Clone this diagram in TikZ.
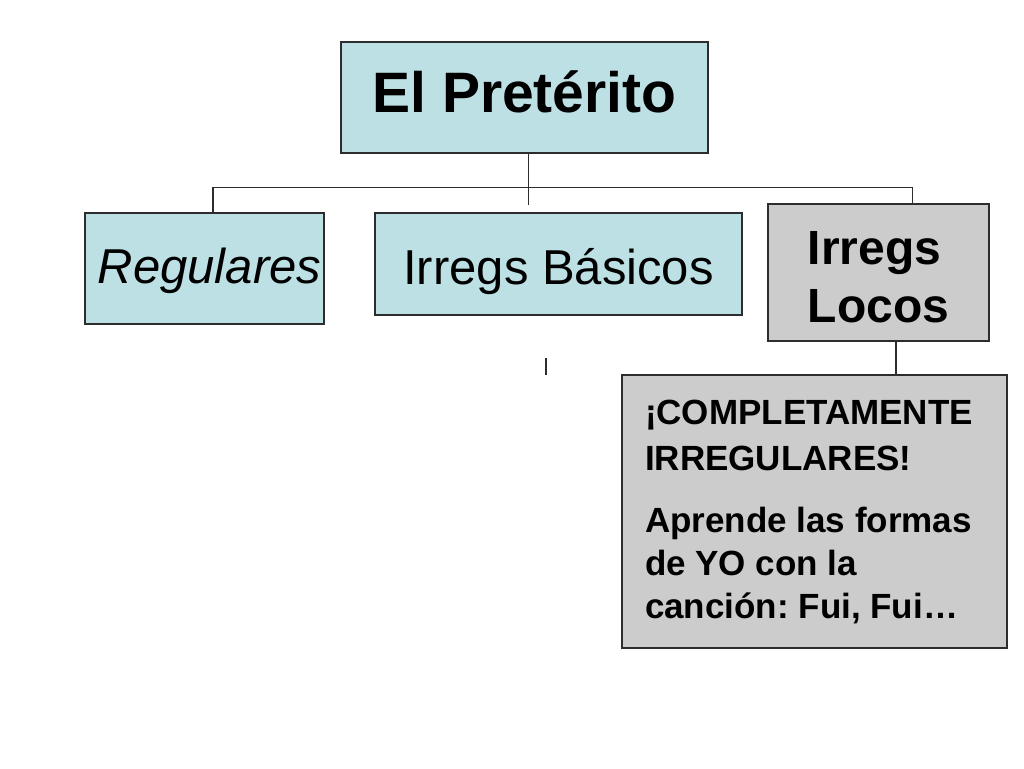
\documentclass[tikz,border=0pt]{standalone}
\usepackage{fontspec}
\setmainfont{Liberation Sans}
\usepackage{tikz}
\usetikzlibrary{calc}
\frenchspacing
\definecolor{boxblue}{RGB}{188,224,228}
\definecolor{boxgray}{RGB}{204,204,204}
\definecolor{lineink}{RGB}{45,45,45}
\tikzset{
	blubox/.style={draw=lineink, fill=boxblue, line width=0.6mm, inner sep=0pt},
	grybox/.style={draw=lineink, fill=boxgray, line width=0.6mm, inner sep=0pt},
	wire/.style={draw=lineink, line width=0.6mm}
}

\begin{document}
\begin{tikzpicture}[x=1pt, y=-1pt]
		%%%%% START %%%%%
		
		\fill[white] (0, 0) rectangle (1024, 768);
		\useasboundingbox (0, 0) rectangle (1024, 768);
		
		\node[blubox, minimum width=367, minimum height=111, text height=45, text depth=15, font=\fontsize{57}{68}\selectfont\bfseries] (pret) at (524.5, 97.5) {El Pretérito};
		
		\node[blubox, minimum width=239, minimum height=111, text height=40, text depth=11, font=\fontsize{49}{59}\selectfont\itshape] (reg) at (204.5, 268.5) {\hspace{10pt}Regulares};
		\node[blubox, minimum width=367, minimum height=102, text height=45, text depth=5, font=\fontsize{49}{59}\selectfont] (basic) at (558.5, 264) {Irregs Básicos};
		\node[grybox, minimum width=221, minimum height=137, align=left, font=\fontsize{48}{58}\selectfont\bfseries] (locos) at (878.5, 272.5) {\rule{0pt}{43pt}Irregs\\Locos};
		
		\node[grybox, minimum width=385, minimum height=273, text width=339, align=flush left, font=\fontsize{35}{43}\selectfont\bfseries] (comp) at (814.5, 511.5) {¡COMPLETAMENTE\\[3pt]IRREGULARES!\\[19pt]Aprende las formas\\de YO con la\\canción: Fui, Fui…};
		
		\coordinate (stub) at (528.5, 205);
		\coordinate (busL) at (213, 187.5);
		\coordinate (busR) at (912.5, 187.5);
		\coordinate (drop) at ($(locos.south)+(17.5, 0)$);
		
		\draw[wire] (stub |- pret.south) -- (stub);
		\draw[wire] (busL |- reg.north) -- (busL) -- (busR) -- (busR |- locos.north);
		\draw[wire] (drop) -- (drop |- comp.north);
		
		\draw[wire] (546, 358) -- (546, 375);
		
		%%%%% END %%%%%
\end{tikzpicture}
\end{document}
